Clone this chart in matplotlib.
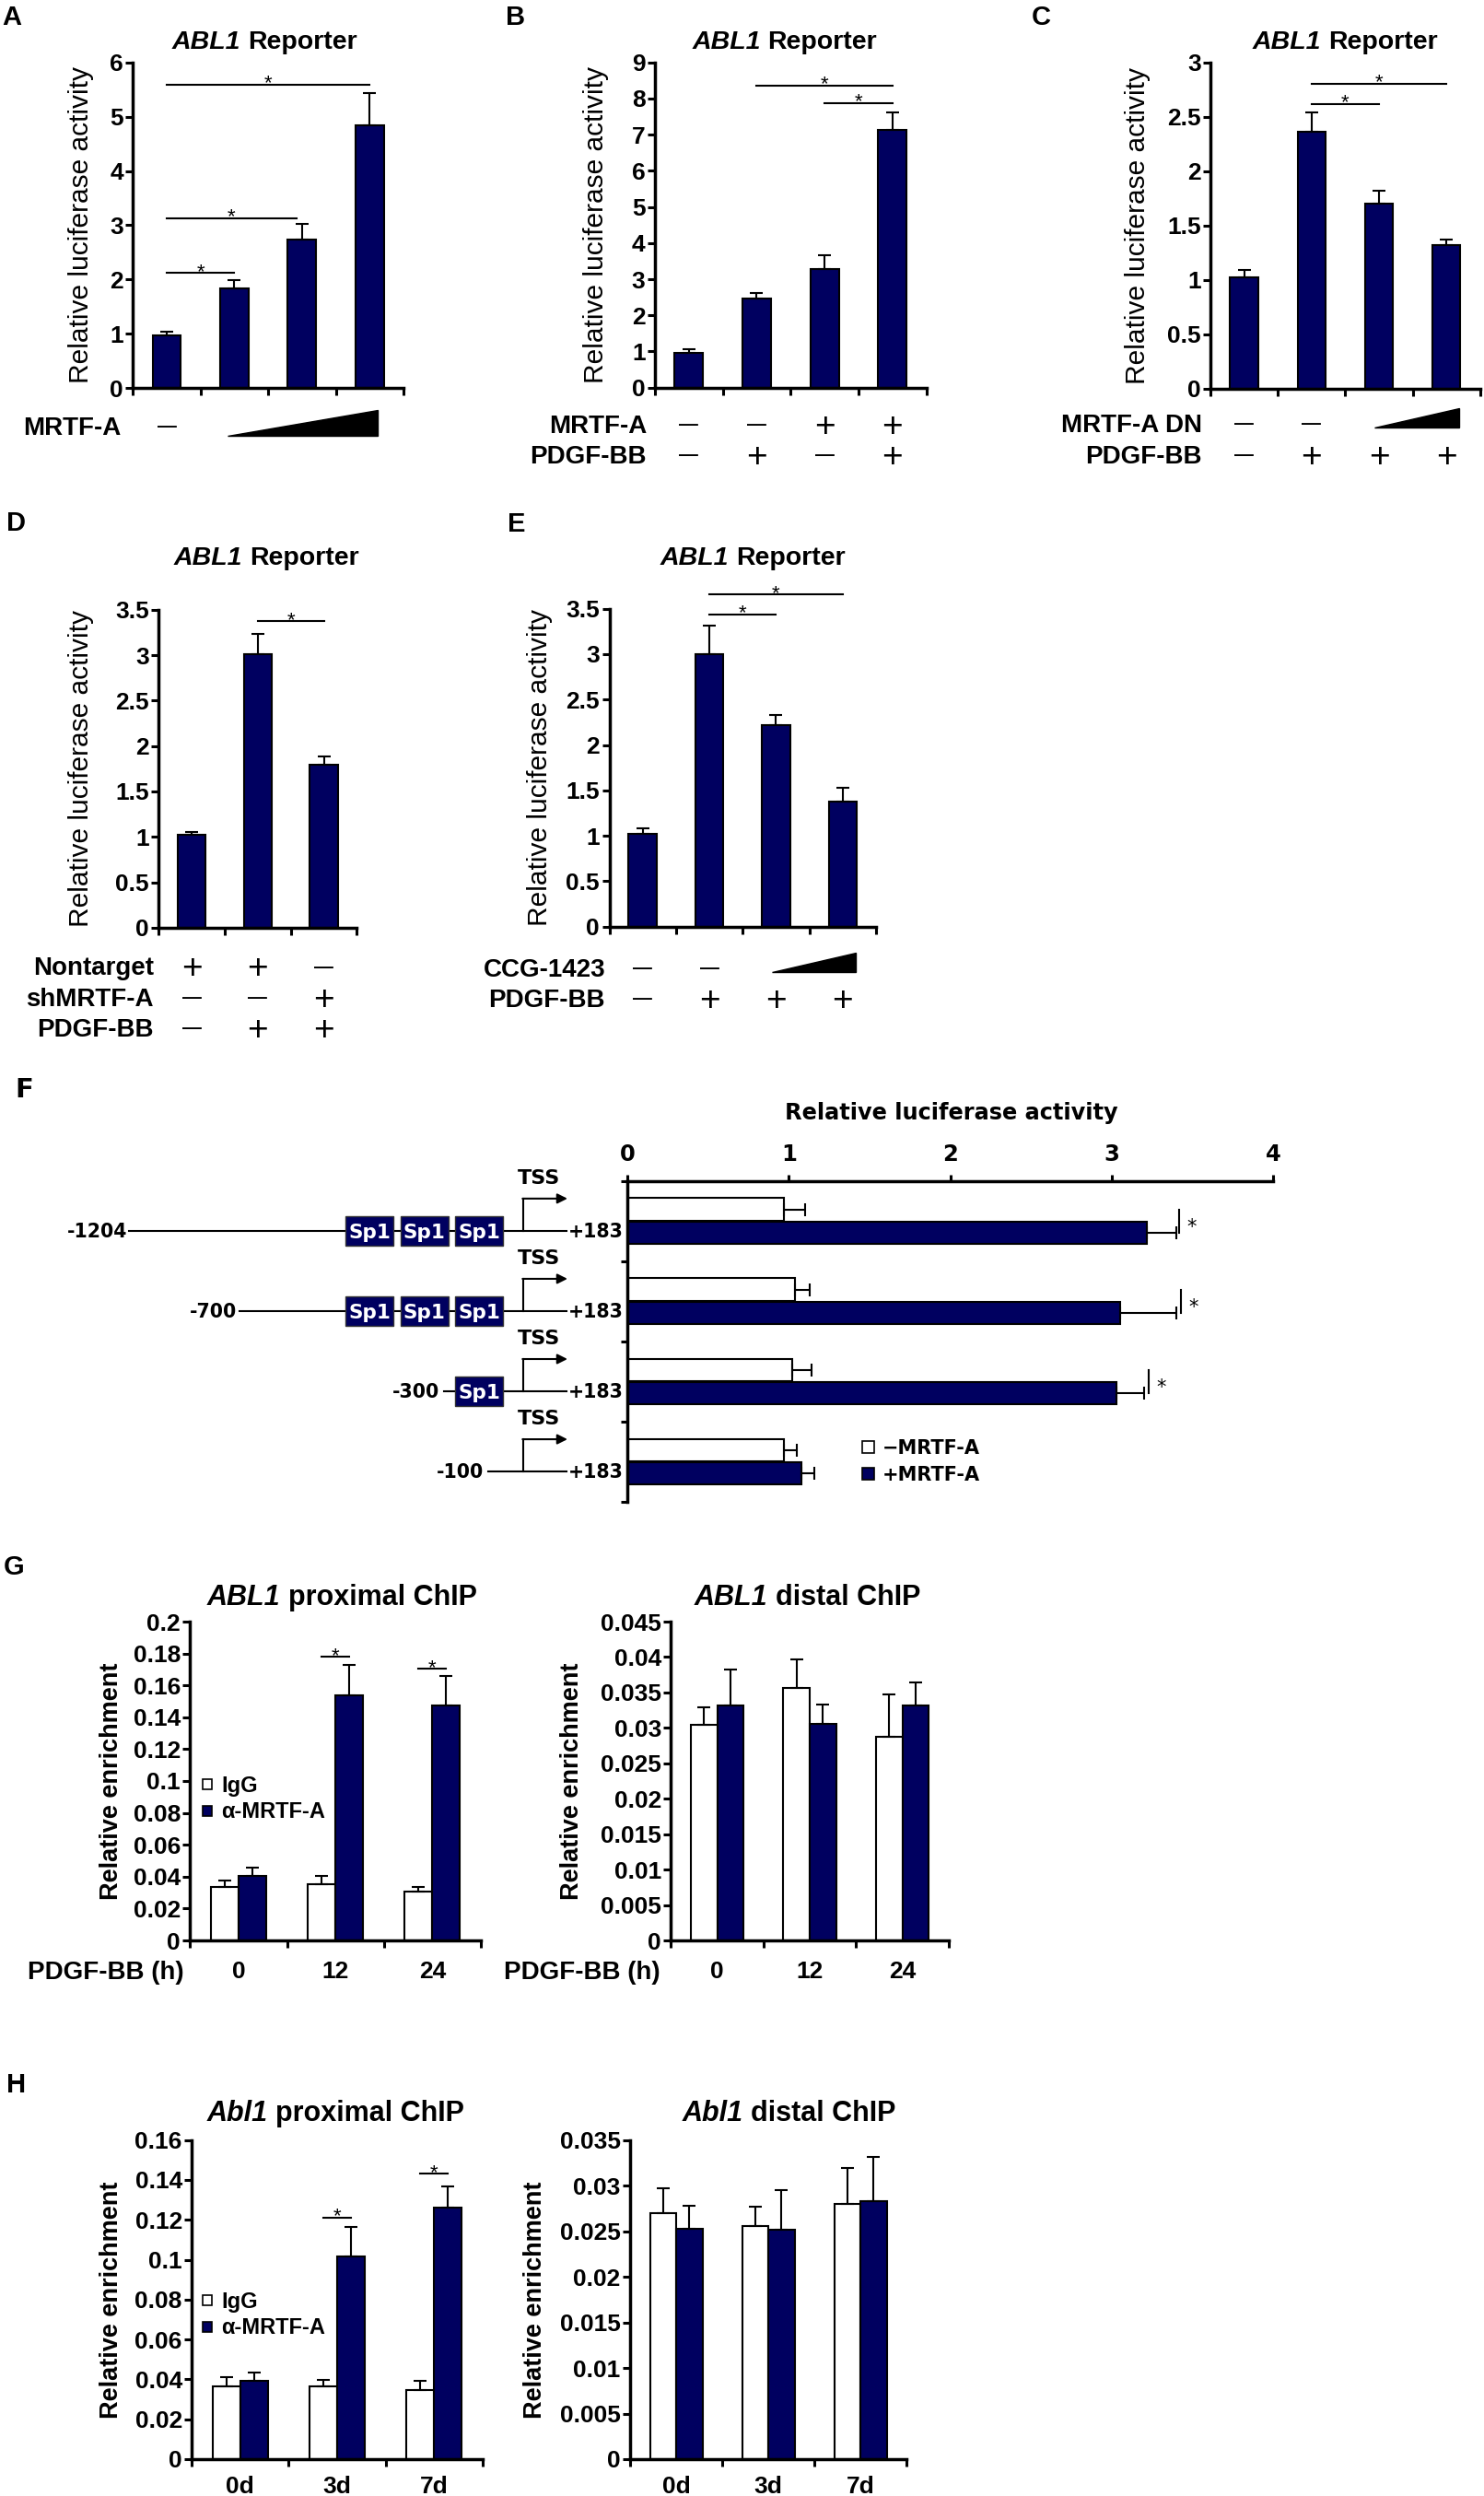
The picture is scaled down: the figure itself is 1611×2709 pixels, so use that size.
import numpy as np
import matplotlib
matplotlib.use('Agg')
import matplotlib.pyplot as plt
import matplotlib.transforms as mtransforms
from matplotlib.patches import Polygon, Rectangle

W, H = 1611, 2709
NAVY = '#000060'

# ---------------- data ----------------
# A-E: ABL1 reporter assays (mean, upper error)
a_vals = [0.98, 1.83, 2.74, 4.84]
a_err = [0.06, 0.16, 0.29, 0.60]
a_sig = [(0, 1, 2.12), (0, 1.92, 3.13), (0, 3, 5.59)]

b_vals = [0.95, 2.46, 3.27, 7.14]
b_err = [0.11, 0.17, 0.40, 0.47]
b_sig = [(1, 3, 8.36), (2, 3, 7.88)]

c_vals = [1.02, 2.36, 1.70, 1.32]
c_err = [0.07, 0.18, 0.12, 0.05]
c_sig = [(1, 2, 2.62), (1, 3, 2.805)]

d_vals = [1.02, 3.01, 1.79]
d_err = [0.03, 0.22, 0.09]
d_sig = [(1, 2, 3.376)]

e_vals = [1.02, 3.00, 2.22, 1.38]
e_err = [0.06, 0.31, 0.11, 0.15]
e_sig = [(1, 2, 3.44), (1, 3, 3.657)]

# F: promoter deletion constructs
f_constructs = ['-1204', '-700', '-300', '-100']
f_sp1 = [3, 3, 1, 0]
f_minus = [0.97, 1.04, 1.02, 0.97]
f_minus_err = [0.13, 0.09, 0.12, 0.08]
f_plus = [3.22, 3.05, 3.03, 1.08]
f_plus_err = [0.18, 0.35, 0.17, 0.08]
f_sig_x = [3.42, 3.43, 3.23, None]

# G: ChIP after PDGF-BB (h)
g_times = ['0', '12', '24']
gp_igg = [0.0333, 0.0353, 0.0308]
gp_igg_err = [0.0045, 0.0052, 0.0025]
gp_mrtf = [0.0407, 0.1538, 0.1474]
gp_mrtf_err = [0.0048, 0.0192, 0.0186]
gp_sig = [(1, 0.1778), (2, 0.1705)]
gd_igg = [0.0304, 0.0357, 0.0287]
gd_igg_err = [0.0025, 0.0040, 0.0060]
gd_mrtf = [0.0332, 0.0306, 0.0332]
gd_mrtf_err = [0.0050, 0.0027, 0.0032]

# H: ChIP in vivo (days)
h_days = ['0d', '3d', '7d']
hp_igg = [0.0365, 0.0365, 0.0346]
hp_igg_err = [0.0046, 0.0034, 0.0047]
hp_mrtf = [0.0393, 0.1018, 0.1261]
hp_mrtf_err = [0.0040, 0.0145, 0.0108]
hp_sig = [(1, 0.1212), (2, 0.1430)]
hd_igg = [0.0270, 0.0256, 0.0280]
hd_igg_err = [0.0027, 0.0021, 0.0039]
hd_mrtf = [0.0253, 0.0252, 0.0283]
hd_mrtf_err = [0.0025, 0.0043, 0.0048]

# ---------------- style ----------------
plt.rcParams['font.family'] = ['Liberation Sans', 'DejaVu Sans']
plt.rcParams['font.weight'] = 'bold'
plt.rcParams['axes.linewidth'] = 2.5

fig = plt.figure(figsize=(W / 100, H / 100), dpi=100)
renderer = fig.canvas.get_renderer()
# pixel coordinates measured from the top-left corner
PX = mtransforms.Affine2D().scale(1 / W, -1 / H).translate(0, 1) + fig.transFigure


def add_ax(l, t, r, b):
    return fig.add_axes([l / W, 1 - b / H, (r - l) / W, (b - t) / H])


def blend(ax):
    return mtransforms.blended_transform_factory(ax.transData, PX)


def put(x, y, s, size, trans=None, ha='center', k=0.358, dy=0, **kw):
    # place text so that its cap height is centred on y
    t = PX if trans is None else trans
    t = t + mtransforms.ScaledTranslation(0, dy / 100 - k * size / 72, fig.dpi_scale_trans)
    return fig.text(x, y, s, transform=t, fontsize=size, ha=ha, va='baseline', **kw)


def title(x, y, gene, rest, size=20.5):
    # italic gene name followed by upright text, centred on x
    t1 = put(0, y, gene, size, ha='left', fontstyle='italic')
    t2 = put(0, y, rest, size, ha='left')
    w1 = t1.get_window_extent(renderer).width
    w2 = t2.get_window_extent(renderer).width
    gap = 0.278 * size * 100 / 72
    x0 = x - (w1 + gap + w2) / 2
    t1.set_x(x0)
    t2.set_x(x0 + w1 + gap)


def frame(ax, n, ymax, step):
    ax.spines[['top', 'right']].set_visible(False)
    ax.set_xlim(-0.5, n - 0.5)
    ax.set_ylim(0, ymax)
    ax.set_xticks(np.arange(n + 1) - 0.5, [''] * (n + 1))
    yt = np.linspace(0, ymax, int(round(ymax / step)) + 1)
    ax.set_yticks(yt, [f'{v:g}' for v in yt])
    ax.tick_params(length=5.5, width=2.2, labelsize=19, pad=2)


def sig(ax, x0, x1, y):
    ax.plot([x0, x1], [y, y], color='k', lw=1.5, clip_on=False)
    put((x0 + x1) / 2, y, '*', 16, trans=ax.transData, k=0.575, dy=8, fontweight='normal')


def bar_panel(box, vals, errs, ymax, step, sigs, ylab_x):
    ax = add_ax(*box)
    n = len(vals)
    x = np.arange(n)
    ax.bar(x, vals, 0.42, color=NAVY, edgecolor='k', linewidth=1.5, zorder=2)
    ax.errorbar(x, vals, yerr=[np.zeros(n), errs], fmt='none', ecolor='k',
                elinewidth=1.5, capsize=5, capthick=1.5, zorder=3)
    frame(ax, n, ymax, step)
    ax.set_ylabel('Relative luciferase activity', fontsize=21.5, fontweight='normal')
    ax.yaxis.set_label_coords(ylab_x, 0.5)
    for s in sigs:
        sig(ax, *s)
    return ax


def rows(ax, right, spec):
    for name, y, signs in spec:
        put(right, y, name, 20, ha='right')
        for i, s in enumerate(signs):
            if s == '+':
                put(i, y, '+', 28, trans=blend(ax), fontweight='normal')
            elif s == '-':
                put(i, y, '\u2014', 15, trans=blend(ax), k=0.3)


def wedge(ax, x0, x1, ybot, ytop):
    fig.add_artist(Polygon([(x0, ybot), (x1, ybot), (x1, ytop)], closed=True,
                           facecolor='k', edgecolor='k', transform=blend(ax)))


# ---------------- A ----------------
axA = bar_panel((144.3, 67.7, 438, 421.3), a_vals, a_err, 6, 1, a_sig, -0.144)
title(287.5, 42.5, 'ABL1', 'Reporter')
rows(axA, 131, [('MRTF-A', 461.7, '-   ')])
wedge(axA, 0.9, 3.12, 472.7, 445)

# ---------------- B ----------------
axB = bar_panel((711, 67.7, 1005.6, 420.7), b_vals, b_err, 9, 1, b_sig, -0.171)
title(851.6, 42.5, 'ABL1', 'Reporter')
rows(axB, 702, [('MRTF-A', 460, '--++'), ('PDGF-BB', 493, '-+-+')])

# ---------------- C ----------------
axC = bar_panel((1314.3, 67.7, 1606.6, 421.5), c_vals, c_err, 3, 0.5, c_sig, -0.224)
title(1460, 42.5, 'ABL1', 'Reporter')
rows(axC, 1304.6, [('MRTF-A DN', 459, '--  '), ('PDGF-BB', 493, '-+++')])
wedge(axC, 1.93, 3.19, 464, 443.3)

# ---------------- D ----------------
axD = bar_panel((172.2, 661.7, 387.4, 1006.9), d_vals, d_err, 3.5, 0.5, d_sig, -0.328)
title(289, 602.5, 'ABL1', 'Reporter')
rows(axD, 167, [('Nontarget', 1048.3, '++-'), ('shMRTF-A', 1081.6, '--+'),
                ('PDGF-BB', 1115, '-++')])

# ---------------- E ----------------
axE = bar_panel((661.5, 660.6, 951, 1005.8), e_vals, e_err, 3.5, 0.5, e_sig, -0.211)
title(817.5, 602.5, 'ABL1', 'Reporter')
rows(axE, 657, [('CCG-1423', 1050, '--  '), ('PDGF-BB', 1082.7, '-+++')])
wedge(axE, 1.94, 3.2, 1054.6, 1033.5)

# ---------------- F ----------------
DV = 'DejaVu Sans'
axF = add_ax(681, 1281.7, 1382, 1630)
yF = np.arange(len(f_constructs))
z = np.zeros(len(yF))
axF.barh(yF - 0.145, f_minus, 0.28, color='white', edgecolor='k', linewidth=1.5, zorder=2)
axF.barh(yF + 0.145, f_plus, 0.28, color=NAVY, edgecolor='k', linewidth=1.5, zorder=2)
axF.errorbar(f_minus, yF - 0.145, xerr=[z, f_minus_err], fmt='none', ecolor='k',
             elinewidth=1.5, capsize=5, capthick=1.5, zorder=3)
axF.errorbar(f_plus, yF + 0.145, xerr=[z, f_plus_err], fmt='none', ecolor='k',
             elinewidth=1.5, capsize=5, capthick=1.5, zorder=3)
axF.set_xlim(0, 4)
axF.set_ylim(len(yF) - 0.5, -0.5)
axF.spines[['bottom', 'right']].set_visible(False)
axF.xaxis.tick_top()
axF.set_xticks(range(5), [str(v) for v in range(5)], fontfamily=DV)
axF.set_yticks(np.arange(len(yF) + 1) - 0.5, [''] * (len(yF) + 1))
axF.tick_params(length=5, width=2.2, labelsize=17.5, pad=7)
for i, sx in enumerate(f_sig_x):
    if sx is None:
        continue
    axF.plot([sx, sx], [i - 0.145, i + 0.145], color='k', lw=1.5, clip_on=False)
    put(sx + 0.045, i, '*', 15, trans=axF.transData, ha='left', k=0.59,
        fontfamily=DV, fontweight='normal')
put(1032.8, 1206, 'Relative luciferase activity', 17.3, k=0.365, fontfamily=DV)
put(16, 1180, 'F', 21, ha='left', k=0.365, fontfamily=DV)

# legend of F
for (yy, fc, txt) in [(1570.7, 'white', '\u2212MRTF-A'), (1599.3, NAVY, '+MRTF-A')]:
    fig.add_artist(Rectangle((936, yy - 6.5), 13, 13, facecolor=fc, edgecolor='k',
                             lw=1.2, transform=PX))
    put(958, yy, txt, 15, ha='left', k=0.365, fontfamily=DV)

# promoter diagrams
axS = add_ax(0, 1281.7, 681, 1630)
axS.set_xlim(0, 681)
axS.set_ylim(len(yF) - 0.5, -0.5)
axS.axis('off')
start_right = [138, 257, 477, 525.5]
line_start = [140, 260, 482, 529.6]
box_left = [375, 434.7, 494]
tss_x, line_end = 568, 615
for i, name in enumerate(f_constructs):
    yl = i + 0.12
    axS.plot([line_start[i], line_end], [yl, yl], color='k', lw=1.5, zorder=1)
    if f_sp1[i]:
        for bx in box_left[-f_sp1[i]:]:
            axS.add_patch(Rectangle((bx, yl - 0.184), 52, 0.368, facecolor=NAVY,
                                    edgecolor='#333333', lw=1, zorder=3))
            put(bx + 26, yl, 'Sp1', 15.5, trans=axS.transData, k=0.365,
                fontfamily=DV, color='white', zorder=4)
    yt = yl - 0.40
    axS.plot([tss_x, tss_x], [yl, yt], color='k', lw=1.5)
    axS.annotate('', xy=(line_end + 1, yt), xytext=(tss_x - 0.7, yt),
                 arrowprops=dict(arrowstyle='-|>', color='k', lw=1.5,
                                 mutation_scale=16, shrinkA=0, shrinkB=0))
    put(584.7, yt - 0.28, 'TSS', 16, trans=axS.transData, k=0.365, fontfamily=DV)
    put(start_right[i], yl, name, 14.8, trans=axS.transData, ha='right', k=0.365,
        fontfamily=DV)
    put(617, yl, '+183', 14.8, trans=axS.transData, ha='left', k=0.365, fontfamily=DV)


# ---------------- G / H ----------------
def chip_panel(box, cats, igg, igg_err, mrtf, mrtf_err, ymax, step, ylab_x, sigs,
               cat_y):
    ax = add_ax(*box)
    n = len(cats)
    x = np.arange(n)
    zz = np.zeros(n)
    ax.bar(x - 0.1425, igg, 0.285, color='white', edgecolor='k', linewidth=1.5, zorder=2)
    ax.bar(x + 0.1425, mrtf, 0.285, color=NAVY, edgecolor='k', linewidth=1.5, zorder=2)
    ax.errorbar(x - 0.1425, igg, yerr=[zz, igg_err], fmt='none', ecolor='k',
                elinewidth=1.5, capsize=5, capthick=1.5, zorder=3)
    ax.errorbar(x + 0.1425, mrtf, yerr=[zz, mrtf_err], fmt='none', ecolor='k',
                elinewidth=1.5, capsize=5, capthick=1.5, zorder=3)
    frame(ax, n, ymax, step)
    ax.set_ylabel('Relative enrichment', fontsize=19.5, fontweight='bold')
    ax.yaxis.set_label_coords(ylab_x, 0.5)
    for c, y in sigs:
        sig(ax, c - 0.1425, c + 0.1425, y)
    for i, c in enumerate(cats):
        put(i, cat_y, c, 19, trans=blend(ax))
    return ax


def chip_legend(x, ys):
    for (yy, fc, txt) in zip(ys, ['white', NAVY], ['IgG', '\u03b1-MRTF-A']):
        fig.add_artist(Rectangle((x, yy - 5.5), 10.5, 11, facecolor=fc, edgecolor='k',
                                 lw=1.2, transform=PX))
        put(x + 20.5, yy, txt, 17, ha='left')


axG1 = chip_panel((206.4, 1760, 522, 2106), g_times, gp_igg, gp_igg_err, gp_mrtf,
                  gp_mrtf_err, 0.2, 0.02, -0.23, gp_sig, 2138)
axG2 = chip_panel((728.3, 1760, 1030, 2106), g_times, gd_igg, gd_igg_err, gd_mrtf,
                  gd_mrtf_err, 0.045, 0.005, -0.3125, [], 2138)
title(371.4, 1730.8, 'ABL1', 'proximal ChIP', 22)
title(876.7, 1730.8, 'ABL1', 'distal ChIP', 22)
put(200, 2138, 'PDGF-BB (h)', 20, ha='right')
put(716.7, 2138, 'PDGF-BB (h)', 20, ha='right')
chip_legend(219.6, [1936.7, 1965])

axH1 = chip_panel((208.2, 2322.7, 524, 2669), h_days, hp_igg, hp_igg_err, hp_mrtf,
                  hp_mrtf_err, 0.16, 0.02, -0.236, hp_sig, 2697)
axH2 = chip_panel((684, 2322.7, 984, 2669), h_days, hd_igg, hd_igg_err, hd_mrtf,
                  hd_mrtf_err, 0.035, 0.005, -0.30, [], 2697)
title(364, 2290.8, 'Abl1', 'proximal ChIP', 22)
title(856.7, 2290.8, 'Abl1', 'distal ChIP', 22)
chip_legend(219.6, [2496.7, 2525])

# panel letters
for letter, x, y in [('A', 2, 16.5), ('B', 548.6, 16.7), ('C', 1120, 16.7), ('D', 7, 566),
                     ('E', 550.6, 567), ('G', 3.6, 1698.7), ('H', 7, 2261)]:
    put(x, y, letter, 21, ha='left')

fig.savefig('out.png', dpi=100)
